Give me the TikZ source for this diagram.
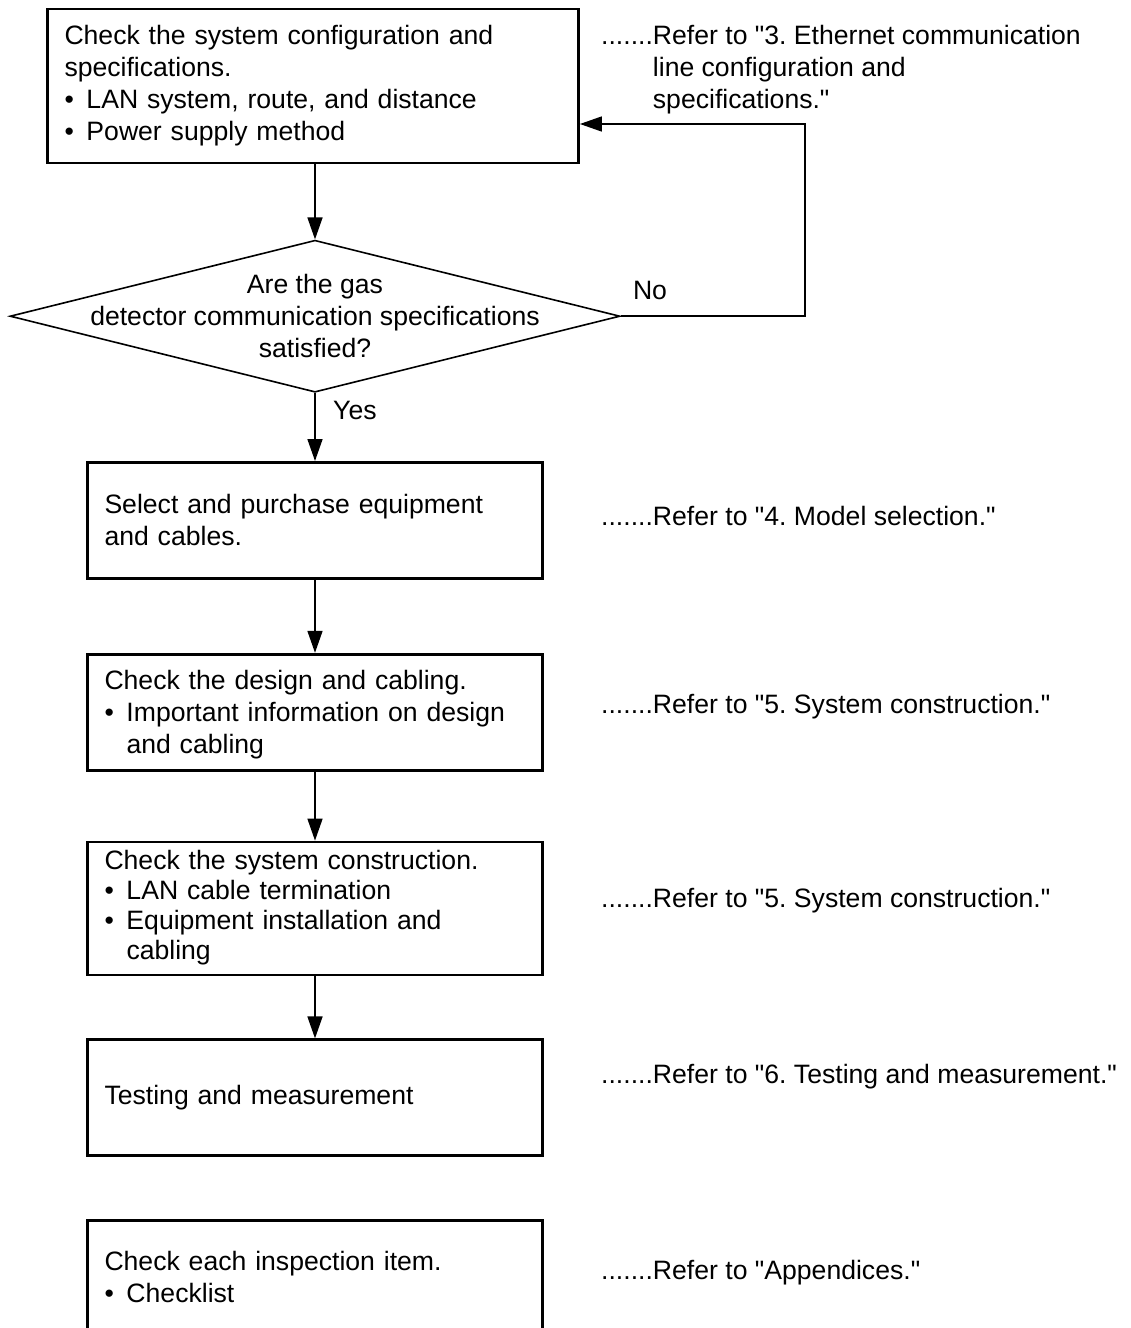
\documentclass[tikz,border=0pt]{standalone}
\usepackage{fontspec}
\setmainfont{Liberation Sans}[Ligatures=TeXOff]
\usetikzlibrary{arrows.meta,positioning,shapes.geometric}
\newcommand{\flitem}[1]{\par\noindent\makebox[22pt][l]{\textbullet}\begin{tabular}[t]{@{}l@{}}#1\end{tabular}}
\frenchspacing

\begin{document}
\begin{tikzpicture}[x=1pt,y=-1pt,
		font=\fontsize{26.6pt}{32pt}\selectfont,
		box/.style={draw,line width=2.8pt,minimum width=455pt,minimum height=116pt,
			text width=421pt,inner xsep=17pt,inner ysep=4pt,align=left},
		decision/.style={diamond,draw,line width=1.6pt,aspect=4,inner xsep=0pt,
			inner ysep=-30pt,minimum width=610pt,minimum height=152pt,align=center},
		note/.style={anchor=base west,inner sep=0pt},
		lbl/.style={inner sep=0pt},
		flow/.style={-{Triangle[length=22pt,width=15pt]},line width=1.6pt}]
	\useasboundingbox (0,0) rectangle (1130,1328);
	
	\node[box,minimum width=531pt,text width=497pt,minimum height=154pt] (cfg) at (313,86)
		{Check the system configuration and specifications.\flitem{LAN system, route, and distance}\flitem{Power supply method}\vspace*{-3pt}};
	\node[decision] (spec) [below=75pt of cfg,xshift=2pt]
		{Are the gas\\detector communication specifications\\satisfied?};
	\node[box] (buy) [below=68pt of spec] {Select and purchase equipment\\and cables.};
	\node[box] (design) [below=73pt of buy]
		{Check the design and cabling.\flitem{Important information on design\\and cabling}\vspace*{-8pt}};
	\node[box,minimum height=133pt,font=\fontsize{26.6pt}{30pt}\selectfont] (build) [below=69pt of design]
		{Check the system construction.\flitem{LAN cable termination}\flitem{Equipment installation and\\cabling}\vspace*{-1pt}};
	\node[box] (test) [below=62pt of build] {Testing and measurement};
	\node[box] (check) [below=62pt of test] {Check each inspection item.\flitem{Checklist}\vspace*{-6pt}};
	
	\node[note] (ref3) at (601,44) {\begin{tabular}[t]{@{}l@{}l@{}}.......&Refer to "3. Ethernet communication\\
		&line configuration and\\&specifications."\end{tabular}};
	\node[note] (ref4) at (601,525) {.......Refer to "4. Model selection."};
	\node[note] (ref5a) at (601,713) {.......Refer to "5. System construction."};
	\node[note] (ref5b) at (601,907) {.......Refer to "5. System construction."};
	\node[note] (ref6) at (601,1083) {.......Refer to "6. Testing and measurement."};
	\node[note] (refapp) at (601,1279) {.......Refer to "Appendices."};
	
	\node[lbl] (no) [above right=16pt and 12pt of spec.east] {No};
	\node[lbl] (yes) [below right=8pt and 18pt of spec.south] {Yes};
	\coordinate (back) at (805,124);
	
	\path[flow]
		(cfg.south -| spec.north) edge (spec)
		(spec) edge (buy)
		(buy) edge (design)
		(design) edge (build)
		(build) edge (test);
	\draw[flow] (spec.east) -| (back) -- (back -| cfg.east);
\end{tikzpicture}
\end{document}
